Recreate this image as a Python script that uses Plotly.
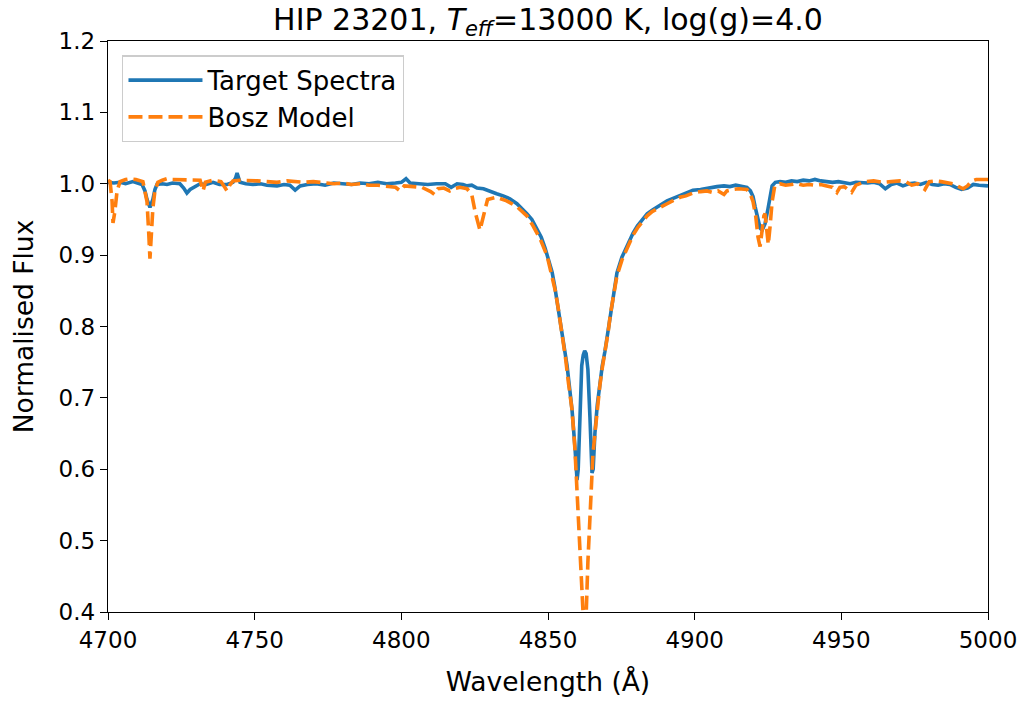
import plotly.graph_objects as go

# Target spectrum (blue)
wl_target = [4700.0, 4702.0, 4704.1, 4706.0, 4708.5, 4710.0, 4711.6, 4712.6, 4713.3, 4714.3, 4715.3, 4716.0,
             4716.7, 4718.5, 4720.1, 4722.0, 4724.5, 4725.8, 4726.9, 4728.0, 4729.0, 4730.5, 4731.4, 4733.5,
             4735.8, 4738.0, 4740.6, 4742.6, 4743.5, 4744.0, 4744.6, 4745.0, 4747.0, 4749.4, 4752.0, 4754.2,
             4757.6, 4760.0, 4762.0, 4763.8, 4765.5, 4768.0, 4771.0, 4774.0, 4777.0, 4780.0, 4783.0, 4786.0,
             4789.0, 4792.0, 4795.0, 4798.0, 4800.0, 4801.6, 4803.0, 4806.0, 4809.0, 4812.0, 4815.0, 4817.0,
             4819.0, 4821.0, 4822.4, 4824.0, 4825.8, 4828.0, 4830.2, 4832.5, 4834.7, 4837.0, 4839.4, 4841.0,
             4842.8, 4844.5, 4846.3, 4847.7, 4849.0, 4850.2, 4851.4, 4852.3, 4853.1, 4854.0, 4854.8, 4855.8,
             4856.5, 4857.4, 4858.2, 4859.2, 4859.9, 4860.3, 4860.9, 4861.5, 4862.0, 4862.5, 4863.0, 4863.6,
             4864.3, 4865.0, 4865.4, 4866.0, 4866.8, 4867.7, 4868.5, 4869.4, 4870.5, 4871.3, 4872.2, 4873.5,
             4875.2, 4876.9, 4879.0, 4880.5, 4882.0, 4883.8, 4885.5, 4887.2, 4889.0, 4890.6, 4893.0, 4895.0,
             4897.0, 4899.4, 4902.0, 4904.2, 4906.0, 4907.6, 4910.0, 4912.0, 4914.0, 4916.0, 4917.8, 4919.0,
             4919.9, 4920.6, 4921.3, 4922.3, 4923.0, 4924.0, 4925.0, 4925.8, 4926.4, 4927.5, 4929.1, 4931.0,
             4933.0, 4935.0, 4937.0, 4939.0, 4941.0, 4943.0, 4945.0, 4947.0, 4949.0, 4951.0, 4953.0, 4955.0,
             4957.0, 4959.0, 4961.0, 4963.0, 4965.0, 4967.0, 4969.0, 4971.0, 4973.0, 4975.0, 4977.0, 4979.0,
             4981.0, 4983.0, 4985.0, 4987.0, 4989.0, 4991.0, 4993.0, 4995.0, 4997.0, 5000.0]
flux_target = [1.002, 1.001, 1.002, 1.000, 1.003, 1.001, 0.999, 0.990, 0.978, 0.967, 0.978, 0.992,
               0.999, 1.000, 0.999, 1.001, 1.000, 0.994, 0.987, 0.992, 0.994, 0.997, 1.000, 0.999,
               1.002, 0.999, 0.999, 1.002, 1.008, 1.015, 1.005, 1.002, 1.000, 0.999, 1.000, 0.998,
               0.997, 0.999, 0.998, 0.991, 0.997, 0.999, 1.000, 0.998, 1.001, 1.000, 0.999, 1.001,
               1.000, 1.002, 1.000, 1.001, 1.002, 1.007, 1.001, 1.000, 0.999, 1.000, 1.000, 0.995,
               1.000, 0.999, 0.997, 0.998, 0.994, 0.993, 0.989, 0.986, 0.983, 0.979, 0.972, 0.966,
               0.958, 0.950, 0.937, 0.925, 0.910, 0.894, 0.876, 0.856, 0.835, 0.812, 0.792, 0.764,
               0.745, 0.712, 0.683, 0.630, 0.585, 0.600, 0.697, 0.745, 0.760, 0.766, 0.762, 0.740,
               0.673, 0.595, 0.600, 0.651, 0.690, 0.721, 0.745, 0.765, 0.795, 0.822, 0.847, 0.875,
               0.897, 0.913, 0.931, 0.941, 0.949, 0.958, 0.963, 0.968, 0.972, 0.976, 0.980, 0.984,
               0.988, 0.991, 0.992, 0.994, 0.995, 0.996, 0.997, 0.996, 0.998, 0.997, 0.995, 0.990,
               0.982, 0.968, 0.955, 0.938, 0.935, 0.944, 0.965, 0.985, 0.997, 1.002, 1.003, 1.002,
               1.004, 1.003, 1.005, 1.004, 1.006, 1.004, 1.003, 1.002, 1.003, 1.001, 1.000, 1.002,
               1.001, 1.001, 1.002, 1.000, 0.993, 0.999, 1.001, 0.997, 1.000, 1.001, 0.999, 1.002,
               0.999, 0.998, 1.000, 0.999, 0.995, 0.992, 0.994, 0.999, 0.998, 0.997]

# Bosz model spectrum (orange)
wl_model = [4700.0, 4700.7, 4701.4, 4701.7, 4702.3, 4703.1, 4704.1, 4706.0, 4707.5, 4709.5, 4711.9, 4712.6,
            4713.3, 4713.9, 4714.3, 4714.8, 4715.3, 4716.0, 4717.0, 4718.5, 4720.1, 4722.0, 4724.5, 4726.9,
            4729.0, 4731.4, 4732.4, 4733.2, 4735.8, 4738.5, 4739.8, 4740.6, 4741.5, 4742.6, 4745.0, 4748.0,
            4750.8, 4754.2, 4757.6, 4761.0, 4764.0, 4767.0, 4770.0, 4774.0, 4777.0, 4780.0, 4783.0, 4786.0,
            4789.0, 4792.0, 4795.0, 4798.0, 4799.6, 4801.0, 4804.1, 4807.0, 4810.0, 4811.3, 4812.5, 4814.5,
            4816.5, 4818.0, 4820.0, 4822.4, 4824.0, 4825.2, 4826.8, 4828.4, 4829.4, 4832.5, 4835.9, 4839.4,
            4842.8, 4844.9, 4847.3, 4849.7, 4851.4, 4852.5, 4853.5, 4854.8, 4856.0, 4857.0, 4858.2, 4859.2,
            4860.3, 4860.9, 4861.6, 4862.0, 4862.5, 4863.0, 4863.6, 4864.1, 4864.6, 4865.3, 4866.0, 4866.8,
            4867.7, 4868.5, 4869.4, 4870.5, 4871.3, 4872.2, 4873.5, 4875.2, 4876.9, 4879.0, 4880.5, 4882.0,
            4883.8, 4885.5, 4887.2, 4889.0, 4890.6, 4893.0, 4895.0, 4897.0, 4899.4, 4902.0, 4904.2, 4906.0,
            4908.0, 4910.0, 4911.0, 4913.0, 4915.0, 4917.8, 4919.0, 4919.9, 4920.8, 4921.6, 4922.3, 4923.0,
            4923.6, 4924.0, 4924.6, 4925.1, 4925.7, 4926.4, 4927.3, 4929.0, 4931.0, 4933.0, 4935.0, 4937.0,
            4939.0, 4941.0, 4943.0, 4945.0, 4947.0, 4948.5, 4949.5, 4951.0, 4953.5, 4955.0, 4958.0, 4961.0,
            4964.0, 4967.0, 4970.0, 4972.0, 4974.0, 4976.0, 4978.5, 4980.0, 4982.0, 4984.0, 4986.0, 4988.0,
            4990.0, 4991.5, 4993.0, 4994.5, 4996.0, 5000.0]
flux_model = [1.005, 1.003, 0.975, 0.945, 0.960, 0.990, 1.003, 1.006, 1.007, 1.006, 1.003, 0.990,
              0.975, 0.930, 0.895, 0.930, 0.966, 0.990, 1.002, 1.005, 1.007, 1.006, 1.006, 1.006,
              1.006, 1.005, 0.990, 1.002, 1.005, 1.003, 0.995, 0.990, 0.998, 1.004, 1.005, 1.005,
              1.004, 1.003, 1.002, 1.004, 1.003, 1.002, 1.003, 1.002, 1.000, 1.001, 0.999, 1.000,
              0.998, 0.998, 0.997, 0.995, 0.990, 0.997, 0.996, 0.995, 0.989, 0.985, 0.993, 0.994,
              0.990, 0.993, 0.995, 0.993, 0.985, 0.960, 0.935, 0.965, 0.978, 0.981, 0.976, 0.968,
              0.955, 0.941, 0.923, 0.899, 0.871, 0.850, 0.825, 0.790, 0.755, 0.720, 0.683, 0.627,
              0.540, 0.480, 0.420, 0.395, 0.385, 0.395, 0.470, 0.510, 0.560, 0.620, 0.650, 0.688,
              0.718, 0.742, 0.762, 0.792, 0.818, 0.843, 0.871, 0.893, 0.908, 0.928, 0.938, 0.946,
              0.955, 0.961, 0.965, 0.969, 0.972, 0.977, 0.981, 0.983, 0.987, 0.989, 0.990, 0.988,
              0.990, 0.985, 0.990, 0.992, 0.993, 0.992, 0.985, 0.975, 0.955, 0.925, 0.912, 0.935,
              0.955, 0.958, 0.935, 0.915, 0.940, 0.975, 0.997, 1.000, 0.998, 0.999, 1.000, 0.998,
              0.999, 0.998, 0.999, 0.997, 0.995, 0.988, 0.995, 0.996, 0.988, 0.998, 1.003, 1.004,
              1.002, 1.003, 1.004, 1.003, 0.998, 1.000, 0.992, 1.003, 1.004, 1.003, 1.001, 1.000,
              0.996, 0.993, 0.997, 1.004, 1.006, 1.006]

x_ticks = [4700, 4750, 4800, 4850, 4900, 4950, 5000]
y_ticks = [0.4, 0.5, 0.6, 0.7, 0.8, 0.9, 1.0, 1.1, 1.2]

FONT = "DejaVu Sans"

fig = go.Figure()
fig.add_trace(go.Scatter(x=wl_target, y=flux_target, mode="lines", name="Target Spectra",
                         legendgroup="t", line=dict(color="#1f77b4", width=3.6)))
fig.add_trace(go.Scatter(x=wl_model, y=flux_model, mode="lines", name="Bosz Model",
                         legendgroup="m", line=dict(color="#ff7f0e", width=3.6, dash="14px,6px")))

axis_common = dict(showgrid=False, zeroline=False, showline=True, linecolor="black", linewidth=1.4,
                   mirror=True, ticks="outside", ticklen=7, tickwidth=1.4, tickcolor="black",
                   tickfont=dict(family=FONT, size=23, color="black"))

fig.update_xaxes(range=[4700, 5000], tickvals=x_ticks, ticktext=[str(v) for v in x_ticks],
                 title=dict(text="Wavelength (Å)", font=dict(family=FONT, size=26.5, color="black"), standoff=20),
                 **axis_common)
fig.update_yaxes(range=[0.4, 1.2], tickvals=y_ticks, ticktext=[f"{v:.1f}" for v in y_ticks],
                 title=dict(text="Normalised Flux", font=dict(family=FONT, size=26.5, color="black"), standoff=17),
                 **axis_common)

fig.update_layout(
    width=1032, height=704,
    margin=dict(l=108, r=44, t=41, b=92),
    paper_bgcolor="white", plot_bgcolor="white",
    title=dict(text="HIP 23201, <i>T</i><sub><i>eff</i></sub>=13000 K, log(g)=4.0",
               x=(108 + 440) / 1032, xanchor="center", y=1 - 19 / 704, yanchor="middle", yref="container",
               font=dict(family=FONT, size=30, color="black")),
    legend=dict(x=0.016, y=0.975, xanchor="left", yanchor="top", bgcolor="rgba(255,255,255,0.8)",
                bordercolor="#cccccc", borderwidth=1.4, font=dict(family=FONT, size=26, color="black"),
                itemwidth=74, tracegroupgap=0),
    showlegend=True,
)

fig.write_html("out.html")
